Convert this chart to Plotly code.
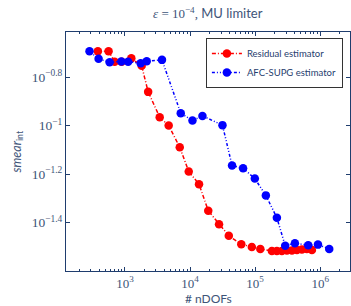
import plotly.graph_objects as go

# Residual estimator
res_ndofs = [384, 561, 695, 890, 1254, 1808, 2275, 3420, 4700, 6950, 9550, 13750,
             19050, 27900, 39400, 61300, 89000, 120200, 180700, 215800, 257700,
             307700, 367400, 438600, 522800, 624000, 745000]
res_smear = [0.2028, 0.2028, 0.1833, 0.1833, 0.1895, 0.1764, 0.1378, 0.1084, 0.1001,
             0.0815, 0.0647, 0.0574, 0.0446, 0.0392, 0.0352, 0.03245, 0.03163, 0.03105,
             0.03046, 0.03046, 0.03046, 0.0306, 0.0306, 0.03075, 0.0309, 0.03105, 0.03075]

# AFC-SUPG estimator
afc_ndofs = [286, 394, 582, 881, 1120, 1745, 2160, 3707, 7200, 10900, 15520, 31500,
             44200, 65300, 98900, 146100, 215800, 289700, 408000, 653000, 922000, 1374000]
afc_smear = [0.2025, 0.1886, 0.1824, 0.1838, 0.1833, 0.1810, 0.1841, 0.1867, 0.1126,
             0.1050, 0.1097, 0.1005, 0.0685, 0.0668, 0.0605, 0.0516, 0.0417, 0.0320,
             0.03277, 0.03215, 0.03234, 0.03105]

x_tickvals = [1e3, 1e4, 1e5, 1e6]
x_ticktext = ["10<sup>3</sup>", "10<sup>4</sup>", "10<sup>5</sup>", "10<sup>6</sup>"]
y_tickvals = [10 ** -0.8, 10 ** -1, 10 ** -1.2, 10 ** -1.4]
y_ticktext = ["10<sup>−0.8</sup>", "10<sup>−1</sup>", "10<sup>−1.2</sup>", "10<sup>−1.4</sup>"]

spine = "#1f3d6e"
txt = "#3e5478"

fig = go.Figure()
fig.add_trace(go.Scatter(
    x=res_ndofs, y=res_smear, mode="lines+markers", name="Residual estimator",
    line=dict(color="#ff0000", width=1.5, dash="4px,2px,1px,2px"),
    marker=dict(color="#ff0000", size=8.5, symbol="circle")))
fig.add_trace(go.Scatter(
    x=afc_ndofs, y=afc_smear, mode="lines+markers", name="AFC-SUPG estimator",
    line=dict(color="#0000ff", width=1.5, dash="3px,2px,1px,2px,1px,2px"),
    marker=dict(color="#0000ff", size=8.5, symbol="circle")))

fig.update_layout(
    width=351, height=306,
    margin=dict(l=66, r=1, t=32, b=35, autoexpand=False),
    plot_bgcolor="white", paper_bgcolor="white",
    legend=dict(x=0.975, y=0.975, xanchor="right", yanchor="top",
                bgcolor="white", bordercolor="#333333", borderwidth=1,
                font=dict(family="Lato", size=9.5, color=spine),
                tracegroupgap=0, itemwidth=30),
    showlegend=True,
    annotations=[
        dict(text='<span style="font-family:Liberation Serif"><i>ε</i> = 10<sup>−4</sup>,</span> MU limiter',
             xref="paper", yref="paper", x=0.5, y=1.0, yshift=19, xanchor="center", yanchor="middle",
             showarrow=False, font=dict(family="Lato", size=13, color=txt)),
        dict(text="# nDOFs", xref="paper", yref="paper", x=0.5, y=0, yshift=-27,
             xanchor="center", yanchor="middle", showarrow=False,
             font=dict(family="Lato", size=12, color=txt)),
        dict(text="<i>smear</i><sub>int</sub>", xref="paper", yref="paper", x=0, xshift=-49,
             y=0.5, xanchor="center", yanchor="middle", textangle=-90, showarrow=False,
             font=dict(family="Lato", size=12.5, color=txt)),
    ],
)

fig.update_xaxes(
    type="log", range=[2.095, 6.457], automargin=False,
    tickvals=x_tickvals, ticktext=x_ticktext,
    ticks="inside", ticklen=4, tickcolor=spine, tickwidth=0.8,
    minor=dict(ticks="inside", ticklen=2, tickcolor=spine, showgrid=False, dtick="D1"),
    showline=True, linecolor=spine, linewidth=1, mirror="ticks",
    showgrid=False, zeroline=False,
    tickfont=dict(family="Liberation Serif", size=13, color=txt),
)
fig.update_yaxes(
    type="log", range=[-1.599, -0.614], automargin=False,
    tickvals=y_tickvals, ticktext=y_ticktext,
    ticks="inside", ticklen=4, tickcolor=spine, tickwidth=0.8,
    showline=True, linecolor=spine, linewidth=1, mirror="ticks",
    showgrid=False, zeroline=False,
    tickfont=dict(family="Liberation Serif", size=13.5, color=txt),
)

fig.write_html("out.html", config={"displayModeBar": False},
               post_script="document.body.style.margin='0';")
